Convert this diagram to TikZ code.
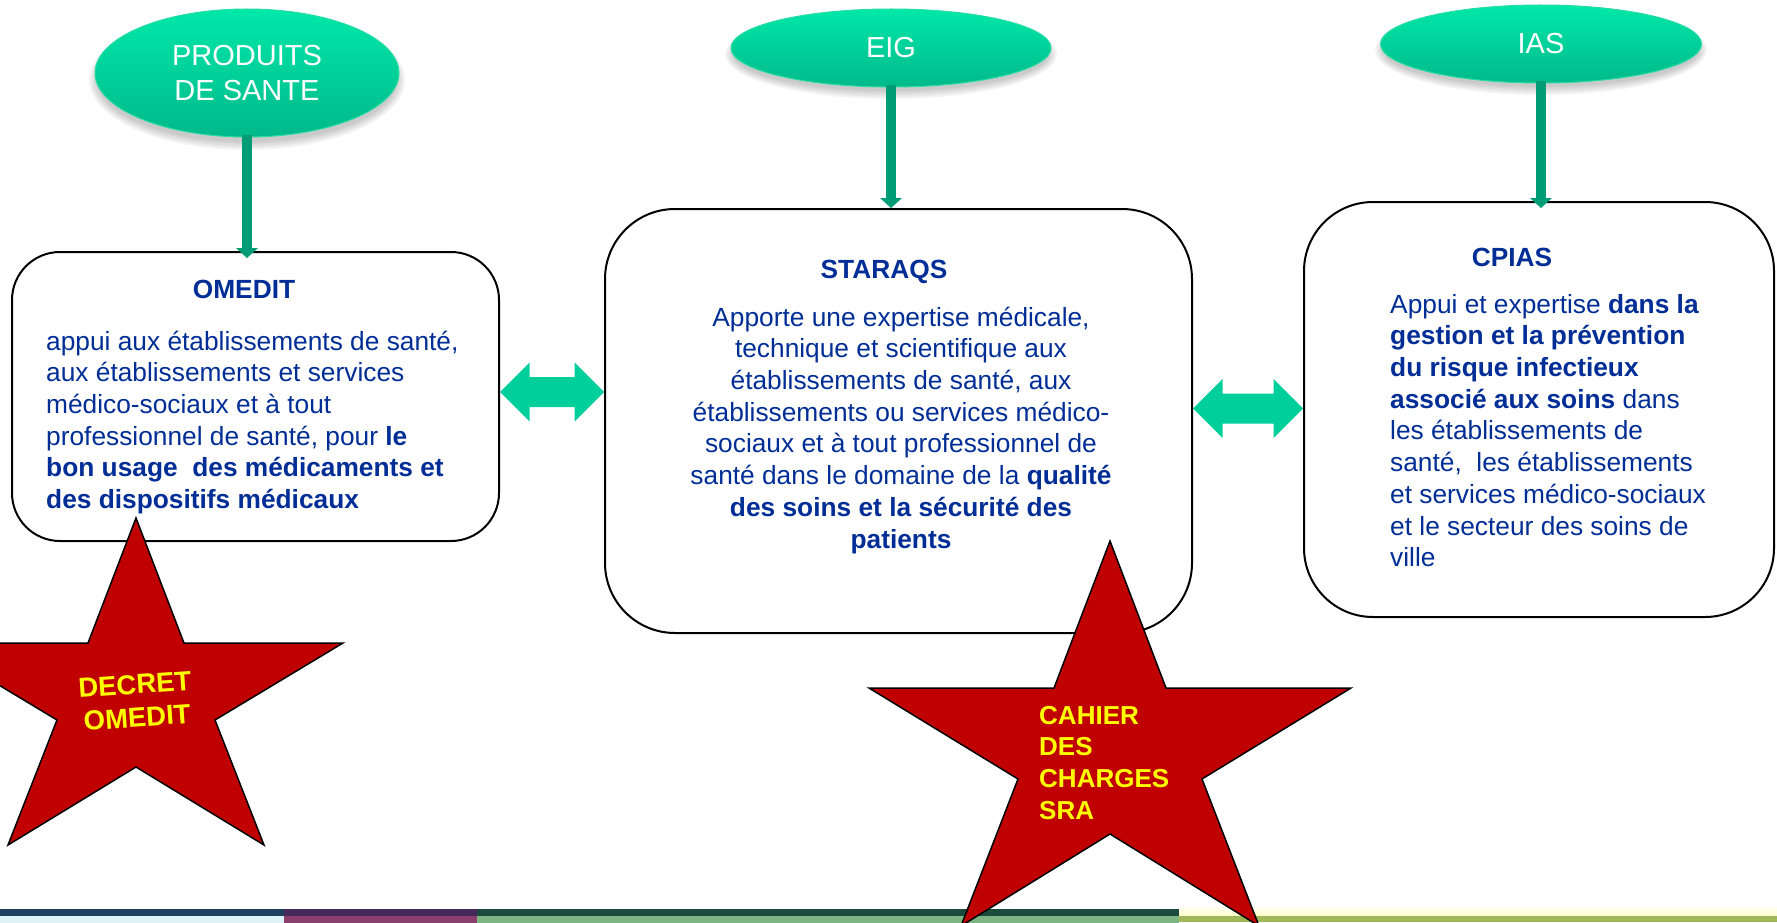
\documentclass[tikz,border=0pt]{standalone}
\usepackage{fontspec}
\setmainfont{Liberation Sans}
\usetikzlibrary{shapes.geometric,arrows.meta,calc}

\definecolor{txtblue}{RGB}{0,45,150}
\definecolor{elltop}{RGB}{0,232,169}
\definecolor{ellbot}{RGB}{0,185,138}
\definecolor{ellline}{RGB}{40,220,165}
\definecolor{connc}{RGB}{0,156,118}
\definecolor{dblc}{RGB}{0,207,155}
\definecolor{starred}{RGB}{192,0,0}
\definecolor{staryel}{RGB}{255,255,0}
\definecolor{barat}{RGB}{30,64,96}
\definecolor{barab}{RGB}{221,243,248}
\definecolor{barbt}{RGB}{69,41,90}
\definecolor{barbb}{RGB}{138,62,108}
\definecolor{barct}{RGB}{28,75,62}
\definecolor{barcb}{RGB}{125,182,130}
\definecolor{bardb}{RGB}{160,184,90}

\begin{document}
\begin{tikzpicture}[x=1pt,y=-1pt,
  ell/.style={ellipse, inner sep=0pt, draw=ellline, line width=1pt,
    top color=elltop, bottom color=ellbot, text=white, align=center,
    font=\fontsize{29}{35}\selectfont},
  shadowlayer/.style={fill=black, opacity=0.045},
  box/.style={rectangle, draw=black, line width=2pt, fill=white, inner sep=0pt},
  conn/.style={draw=connc, line width=10pt,
    -{Triangle[width=22pt,length=10pt,line width=0pt]}},
  dbl/.style={fill=dblc},
  ttl/.style={font=\fontsize{26.3}{31.7}\selectfont\bfseries, text=txtblue, inner sep=0pt, anchor=base},
  body/.style={font=\fontsize{26.3}{31.7}\selectfont, text=txtblue, inner sep=0pt},
  starshape/.style={fill=starred, draw=black, line width=1.5pt},
  startxt/.style={text=staryel, inner sep=0pt, font=\fontsize{26}{31.7}\selectfont\bfseries}
]
\useasboundingbox (0,0) rectangle (1777,923);
\clip (0,0) rectangle (1777,923);
\fill[white] (0,0) rectangle (1777,923);

% bottom bars
\fill[barat] (0,909) rectangle (284,916);
\fill[barab] (0,916) rectangle (284,923);
\fill[barbt] (284,909) rectangle (477,916);
\fill[barbb] (284,916) rectangle (477,923);
\fill[barct] (477,909) rectangle (1179,916);
\fill[barcb] (477,916) rectangle (1179,923);
\shade[top color=white, bottom color=yellow!22] (1179,905) rectangle (1777,916);
\fill[bardb] (1179,916) rectangle (1777,922);

% soft shadows of the ellipses
\foreach \k in {0,2,4,6,8} {
  \fill[shadowlayer] (247,80) ellipse ({150+\k} and {62+\k});
  \fill[shadowlayer] (891,54) ellipse ({158+\k} and {37+\k});
  \fill[shadowlayer] (1541,50) ellipse ({158+\k} and {37+\k});
}

% ellipses
\node[ell, minimum width=304pt, minimum height=128pt] (prod) at (247,73) {PRODUITS\\DE SANTE};
\node[ell, minimum width=320pt, minimum height=78pt] (eig) at (891,48) {EIG};
\node[ell, minimum width=321pt, minimum height=78pt] (ias) at (1541,44) {IAS};

% boxes
\node[box, rounded corners=48pt, minimum width=487pt, minimum height=289pt] (omedit) at (255.5,396.5) {};
\node[box, rounded corners=70pt, minimum width=587pt, minimum height=424pt] (staraqs) at (898.5,421) {};
\node[box, rounded corners=69pt, minimum width=470pt, minimum height=415pt] (cpias) at (1539,409.5) {};

% vertical connectors
\draw[conn, shorten >=-7pt] ([yshift=2pt]prod.south) -- (prod.south |- omedit.north);
\draw[conn] ([yshift=2pt]eig.south) -- (eig.south |- staraqs.north);
\draw[conn, shorten >=-7pt] ([yshift=2pt]ias.south) -- (ias.south |- cpias.north);

% double arrows (block arrows between boxes)
\coordinate (d1) at ([yshift=4.5pt]omedit.east);
\coordinate (d1e) at (d1 -| staraqs.west);
\fill[dbl] (d1) -- ($(d1)+(29.5,-29.5)$) -- ($(d1)+(29.5,-15)$) -- ($(d1e)+(-29.5,-15)$)
  -- ($(d1e)+(-29.5,-29.5)$) -- (d1e) -- ($(d1e)+(-29.5,29.5)$) -- ($(d1e)+(-29.5,15)$)
  -- ($(d1)+(29.5,15)$) -- ($(d1)+(29.5,29.5)$) -- cycle;
\coordinate (d2) at ([yshift=12.5pt]staraqs.east);
\coordinate (d2e) at (d2 -| cpias.west);
\fill[dbl] (d2) -- ($(d2)+(29.5,-29.5)$) -- ($(d2)+(29.5,-15)$) -- ($(d2e)+(-29.5,-15)$)
  -- ($(d2e)+(-29.5,-29.5)$) -- (d2e) -- ($(d2e)+(-29.5,29.5)$) -- ($(d2e)+(-29.5,15)$)
  -- ($(d2)+(29.5,15)$) -- ($(d2)+(29.5,29.5)$) -- cycle;

% titles
\node[ttl] (omt) at (244,298) {OMEDIT};
\node[ttl] (stt) at (884,278) {STARAQS};
\node[ttl] (cpt) at (1512,266) {CPIAS};

% bodies
\node[body, anchor=north west, align=left] (omb) at (46,327.8) {\strut appui aux établissements de santé,\\
aux établissements et services\\
médico-sociaux et à tout\\
professionnel de santé, pour \textbf{le}\\
\textbf{bon usage\ \ des médicaments et}\\
\textbf{des dispositifs médicaux}};

\node[body, anchor=north, align=center] (stb) at (901,303.8) {\strut Apporte une expertise médicale,\\
technique et scientifique aux\\
établissements de santé, aux\\
établissements ou services médico-\\
sociaux et à tout professionnel de\\
santé dans le domaine de la \textbf{qualité}\\
\textbf{des soins et la sécurité des}\\
\textbf{patients}};

\node[body, anchor=north west, align=left] (cpb) at (1390,290.8) {\strut Appui et expertise \textbf{dans la}\\
\textbf{gestion et la prévention}\\
\textbf{du risque infectieux}\\
\textbf{associé aux soins} dans\\
les établissements de\\
santé,\ \ les établissements\\
et services médico-sociaux\\
et le secteur des soins de\\
ville};

% stars
\filldraw[starshape] (136,518) -- (184,643) -- (343,643) -- (215,720) -- (264,845) -- (136,767) -- (8,845) -- (57,720) -- (-71,643) -- (88,643) -- cycle;
\node[startxt, rotate=4, align=center, font=\fontsize{27.5}{33}\selectfont\bfseries] (decret) at (136,701) {DECRET\\OMEDIT};

\filldraw[starshape] (1110,541) -- (1166,688) -- (1351,688) -- (1202,779) -- (1259,926) -- (1110,834) -- (961,926) -- (1018,779) -- (869,688) -- (1054,688) -- cycle;
\node[startxt, anchor=north west, align=left] (cahier) at (1039,701.8) {\strut CAHIER\\DES\\CHARGES\\SRA};
\end{tikzpicture}
\end{document}
